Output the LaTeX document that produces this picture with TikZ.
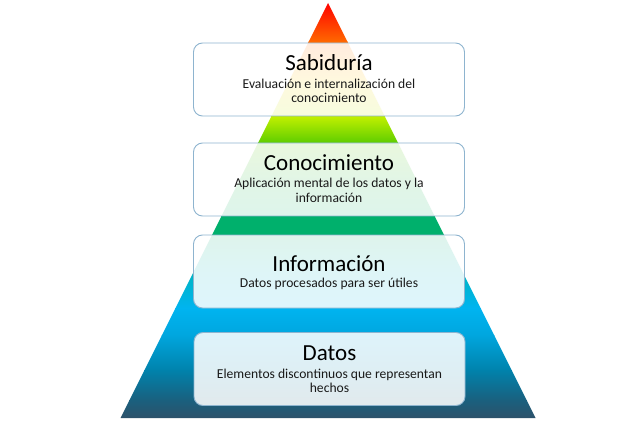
\documentclass[tikz,border=0pt]{standalone}
\usepackage{fontspec}
\setmainfont{Carlito}
\begin{document}
\begin{tikzpicture}[x=1pt,y=-1pt,
  box/.style={draw=boxline, line width=0.9pt, rounded corners=9pt, fill=white, fill opacity=0.87,
    minimum width=271pt, minimum height=73pt, inner sep=0pt},
  ttl/.style={anchor=base, inner sep=0pt, text=black, font=\fontsize{23}{27}\selectfont},
  sub/.style={anchor=base, inner sep=0pt, text=black!90, font=\fontsize{13.6}{15}\selectfont}]
\definecolor{boxline}{HTML}{8EB4CF}
\definecolor{c0}{HTML}{FF0000}
\definecolor{c1}{HTML}{FF6A00}
\definecolor{c2}{HTML}{FFD000}
\definecolor{c3}{HTML}{C2F000}
\definecolor{c4}{HTML}{5CCC00}
\definecolor{c5}{HTML}{20B840}
\definecolor{c6}{HTML}{00B06C}
\definecolor{c7}{HTML}{00B06C}
\definecolor{c8}{HTML}{00B4C0}
\definecolor{c9}{HTML}{00B4F0}
\definecolor{c10}{HTML}{00A6DE}
\definecolor{c11}{HTML}{0082AC}
\definecolor{c12}{HTML}{1A607E}
\definecolor{c13}{HTML}{2F5068}
\useasboundingbox (0,0) rectangle (637,422);
% pyramid
\begin{scope}
\clip (328,3) -- (535.5,418) -- (120.5,418) -- cycle;
\shade[top color=c0, bottom color=c1] (100,2) rectangle (560,42.5);
\shade[top color=c1, bottom color=c2] (100,42) rectangle (560,80.5);
\shade[top color=c2, bottom color=c3] (100,80) rectangle (560,116.5);
\shade[top color=c3, bottom color=c4] (100,116) rectangle (560,143.5);
\shade[top color=c4, bottom color=c5] (100,143) rectangle (560,180.5);
\shade[top color=c5, bottom color=c6] (100,180) rectangle (560,216.5);
\fill[c6] (100,216) rectangle (560,235.5);
\shade[top color=c7, bottom color=c8] (100,235) rectangle (560,270.5);
\shade[top color=c8, bottom color=c9] (100,270) rectangle (560,308.5);
\shade[top color=c9, bottom color=c10] (100,308) rectangle (560,335.5);
\shade[top color=c10, bottom color=c11] (100,335) rectangle (560,370.5);
\shade[top color=c11, bottom color=c12] (100,370) rectangle (560,400.5);
\shade[top color=c12, bottom color=c13] (100,400) rectangle (560,420);
\end{scope}
% boxes
\node[box] (b1) at (329,79.5) {};
\node[box] (b2) at (329,179.5) {};
\node[box] (b3) at (329,271.5) {};
\node[box] (b4) at (329.5,369) {};
% texts
\node[ttl] (t1) at (329,71) {Sabiduría};
\node[sub] (s1a) at (329,88.3) {Evaluación e internalización del};
\node[sub] (s1b) at (329,102.7) {conocimiento};
\node[ttl] (t2) at (329,170.7) {Conocimiento};
\node[sub] (s2a) at (329,187.7) {Aplicación mental de los datos y la};
\node[sub] (s2b) at (329,202.3) {información};
\node[ttl] (t3) at (329,271) {Información};
\node[sub] (s3a) at (329,287.7) {Datos procesados para ser útiles};
\node[ttl] (t4) at (329.5,360.7) {Datos};
\node[sub] (s4a) at (329.5,378.3) {Elementos discontinuos que representan};
\node[sub] (s4b) at (329.5,392.7) {hechos};
\end{tikzpicture}
\end{document}
